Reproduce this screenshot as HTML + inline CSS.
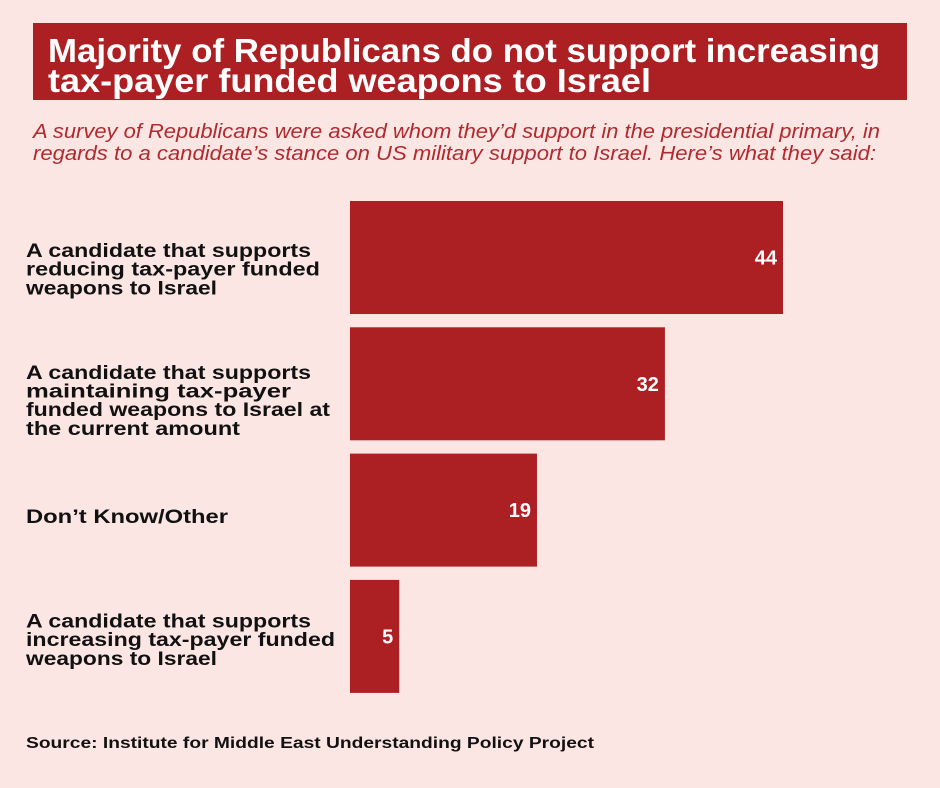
<!DOCTYPE html>
<html><head><meta charset="utf-8"><style>
html,body{margin:0;padding:0;background:#fce6e4;}
svg{display:block;font-family:"Liberation Sans",sans-serif;}
</style></head><body>
<svg id="chart" width="940" height="788" viewBox="0 0 940 788">
<rect x="0" y="0" width="940" height="788" fill="#fce6e4"/>
<rect x="33" y="23" width="874" height="77" fill="#ac1f22"/>
<g fill="#fff" font-weight="bold" font-size="33">
<text x="48" y="62" textLength="832" lengthAdjust="spacingAndGlyphs">Majority of Republicans do not support increasing</text>
<text x="48" y="92" textLength="603" lengthAdjust="spacingAndGlyphs">tax-payer funded weapons to Israel</text>
</g>
<g fill="#b02a2e" font-style="italic" font-size="20">
<text x="33" y="138" textLength="847" lengthAdjust="spacingAndGlyphs">A survey of Republicans were asked whom they’d support in the presidential primary, in</text>
<text x="33" y="160" textLength="843" lengthAdjust="spacingAndGlyphs">regards to a candidate’s stance on US military support to Israel. Here’s what they said:</text>
</g>
<g id="bars"></g>
<text x="26" y="748" font-size="15.5" font-weight="bold" fill="#111" textLength="568" lengthAdjust="spacingAndGlyphs">Source: Institute for Middle East Understanding Policy Project</text>
</svg>
<script>
const categories = [
  ["A candidate that supports","reducing tax-payer funded","weapons to Israel"],
  ["A candidate that supports","maintaining tax-payer","funded weapons to Israel at","the current amount"],
  ["Don’t Know/Other"],
  ["A candidate that supports","increasing tax-payer funded","weapons to Israel"]
];
const values = [44, 32, 19, 5];
const valueLabels = ["44","32","19","5"];

const NS = "http://www.w3.org/2000/svg";
const g = document.getElementById("bars");
const x0 = 350, scale = 433/44;
const bandTop = 201, bandStep = 126.3, barH = 113;
const labelShift = [-7.5, -12, 6, -16];
function xPos(v){ return x0 + v*scale; }
function yPos(i){ return bandTop + i*bandStep; }
const widths = {"A candidate that supports":285,"reducing tax-payer funded":294,"weapons to Israel":191,"maintaining tax-payer":265,"funded weapons to Israel at":304,"the current amount":214,"Don’t Know/Other":202,"increasing tax-payer funded":309};
values.forEach((v,i)=>{
  const y = yPos(i);
  const r = document.createElementNS(NS,"rect");
  r.setAttribute("x", x0); r.setAttribute("y", y);
  r.setAttribute("width", xPos(v)-x0); r.setAttribute("height", barH);
  r.setAttribute("fill", "#ac1f22");
  
  
  g.appendChild(r);
  const t = document.createElementNS(NS,"text");
  t.setAttribute("x", xPos(v)-6); t.setAttribute("y", y+barH/2+7);
  t.setAttribute("text-anchor","end"); t.setAttribute("fill","#fff");
  t.setAttribute("font-weight","bold"); t.setAttribute("font-size","20");
  t.textContent = valueLabels[i];
  
  
  g.appendChild(t);
  const lines = categories[i];
  const lh = 18.7;
  const first = y + barH/2 + 7 + labelShift[i];
  const lab = document.createElementNS(NS,"g");
  
  
  lines.forEach((s,j)=>{
    const tt = document.createElementNS(NS,"text");
    tt.setAttribute("x", 26); tt.setAttribute("y", first + j*lh);
    tt.setAttribute("font-weight","bold"); tt.setAttribute("font-size","19");
    tt.setAttribute("fill","#111");
    if (widths[s]) { tt.setAttribute("textLength", widths[s]); tt.setAttribute("lengthAdjust","spacingAndGlyphs"); }
    tt.textContent = s;
    lab.appendChild(tt);
  });
  g.appendChild(lab);
});
</script>
</body></html>
